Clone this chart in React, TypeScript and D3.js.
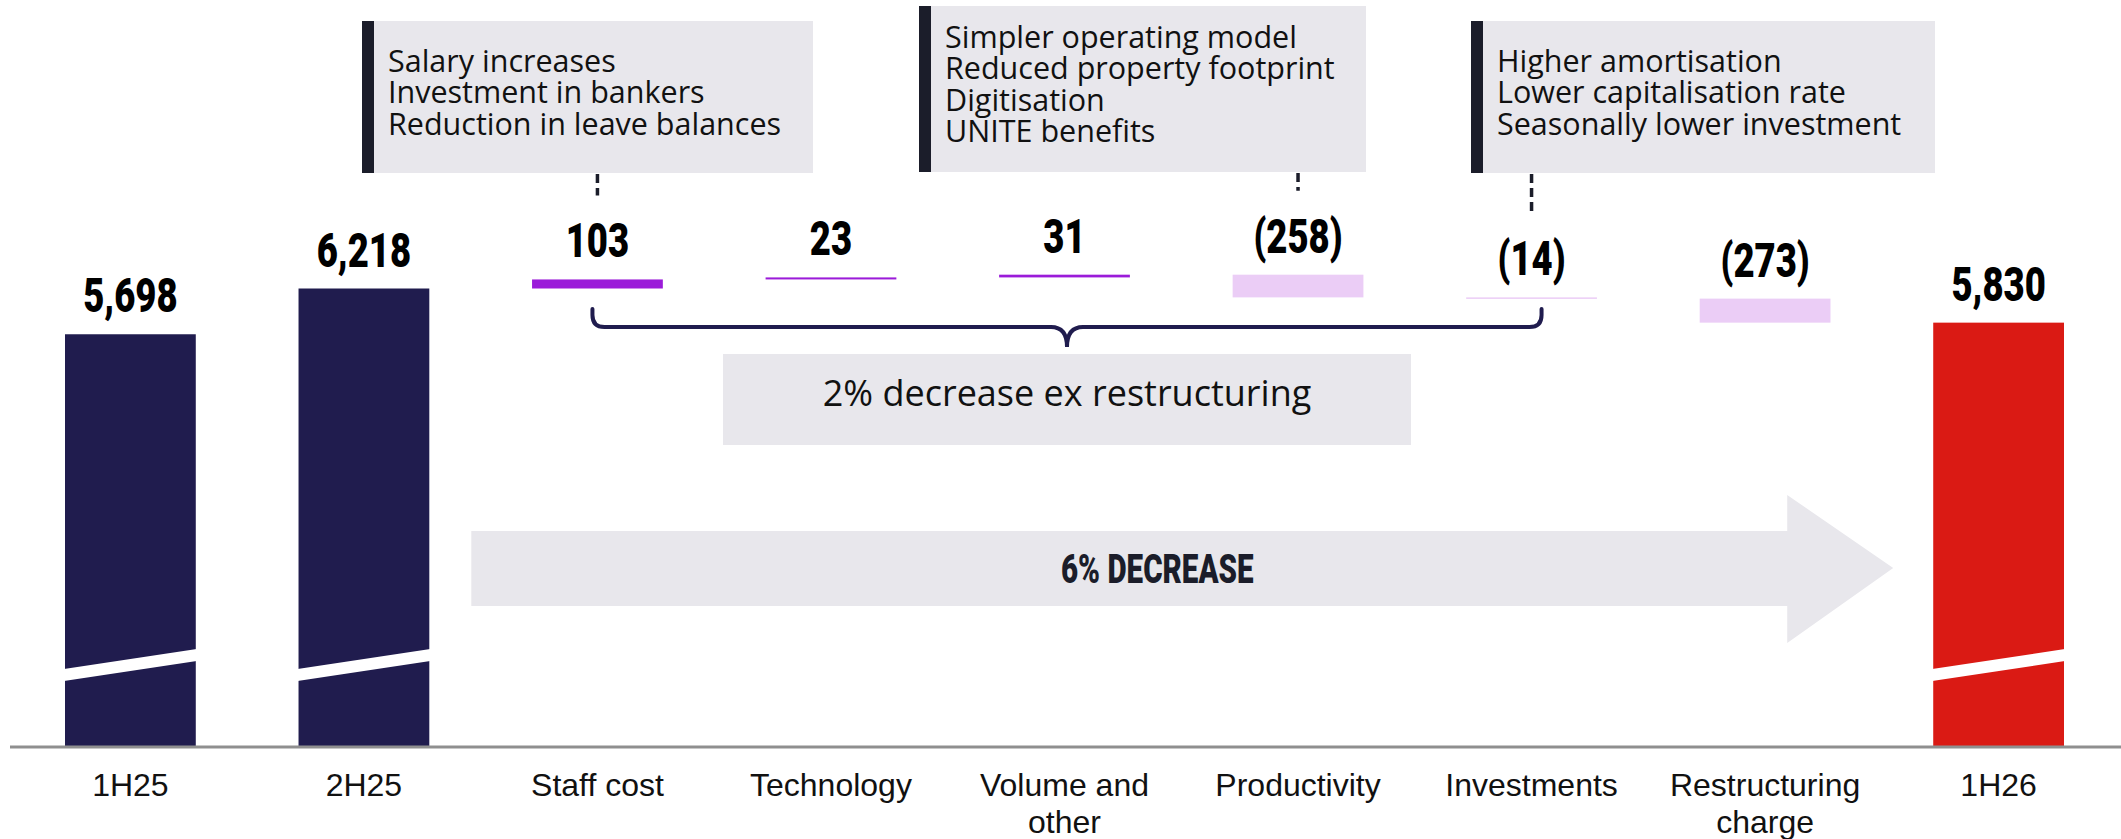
import * as d3 from 'd3'
import { useEffect, useRef } from 'react'

// ---- data ----
const categories = ['1H25', '2H25', 'Staff cost', 'Technology', 'Volume and other', 'Productivity', 'Investments', 'Restructuring charge', '1H26']
const categoryLines = [['1H25'], ['2H25'], ['Staff cost'], ['Technology'], ['Volume and', 'other'], ['Productivity'], ['Investments'], ['Restructuring', 'charge'], ['1H26']]
const openingValues = [5698, 6218] // 1H25, 2H25
const closingValue = 5830 // 1H26
const movements = [103, 23, 31, -258, -14, -273]

const staffNotes = ['Salary increases', 'Investment in bankers', 'Reduction in leave balances']
const productivityNotes = ['Simpler operating model', 'Reduced property footprint', 'Digitisation', 'UNITE benefits']
const investmentNotes = ['Higher amortisation', 'Lower capitalisation rate', 'Seasonally lower investment']
const exRestructuringText = '2% decrease ex restructuring'
const totalChangeText = '6% DECREASE'

// ---- layout ----
const W = 2121
const H = 839
const baseY = 747
const navy = '#201c4e'
const red = '#da1a14'
const upColor = '#9b1bd9'
const downColor = '#ebcdf6'
const boxGray = '#e8e7ec'
const ink = '#1b1d2a'

const noteBoxes = [
	{ notes: staffNotes, target: 'Staff cost', x0: 362, x1: 813, y0: 21, y1: 173 },
	{ notes: productivityNotes, target: 'Productivity', x0: 919, x1: 1366, y0: 6, y1: 172 },
	{ notes: investmentNotes, target: 'Investments', x0: 1471, x1: 1935, y0: 21, y1: 173 },
]

export default function App() {
	const svgRef = useRef<SVGSVGElement>(null)

	useEffect(() => {
		const svg = d3.select(svgRef.current)
		svg.selectAll('*').remove()

		const x = d3.scaleBand().domain(categories).range([65, 2064]).paddingInner(0.44).paddingOuter(0)
		const bw = x.bandwidth()
		const cx = (c: string) => (x(c) as number) + bw / 2
		const y = d3.scaleLinear().domain([1008, 6218]).range([baseY, 288.5])

		// build waterfall rows
		type Row = { cat: string; from: number; to: number; kind: string; label: string }
		const rows: Row[] = []
		rows.push({ cat: categories[0], from: 1008, to: openingValues[0], kind: 'total', label: d3.format(',')(openingValues[0]) })
		rows.push({ cat: categories[1], from: 1008, to: openingValues[1], kind: 'total', label: d3.format(',')(openingValues[1]) })
		let run = openingValues[1]
		movements.forEach((m, i) => {
			rows.push({ cat: categories[i + 2], from: run, to: run + m, kind: m >= 0 ? 'up' : 'down', label: m >= 0 ? String(m) : `(${-m})` })
			run += m
		})
		rows.push({ cat: categories[8], from: 1008, to: closingValue, kind: 'end', label: d3.format(',')(closingValue) })

		const fillFor = (k: string) => (k === 'total' ? navy : k === 'end' ? red : k === 'up' ? upColor : downColor)

		// big arrow
		const aL = (x('2H25') as number) + bw + 42
		const aR = (x('1H26') as number) - 40
		const headX = aR - 106
		svg
			.append('path')
			.attr('d', `M${aL},531 H${headX} V495 L${aR},568 L${headX},643 V606 H${aL} Z`)
			.attr('fill', boxGray)
		svg
			.append('g')
			.attr('transform', `translate(${aL + 686},583) scale(0.74,1)`)
			.append('text')
			.attr('text-anchor', 'middle')
			.attr('font-family', 'Roboto, sans-serif')
			.attr('font-weight', 900)
			.attr('font-size', 40)
			.attr('fill', ink)
			.text(totalChangeText)

		// bars
		rows.forEach((r) => {
			const top = y(Math.max(r.from, r.to))
			const bottom = y(Math.min(r.from, r.to))
			svg
				.append('rect')
				.attr('x', x(r.cat) as number)
				.attr('y', top)
				.attr('width', bw)
				.attr('height', Math.max(1.5, bottom - top))
				.attr('fill', fillFor(r.kind))

			// broken axis slash on totals
			if (r.kind === 'total' || r.kind === 'end') {
				const x0 = (x(r.cat) as number) - 1
				const x1 = x0 + bw + 2
				const yc = baseY - 82
				svg
					.append('path')
					.attr('d', `M${x0},${yc + 4} L${x1},${yc - 16} L${x1},${yc - 4} L${x0},${yc + 16} Z`)
					.attr('fill', '#fff')
			}

			svg
				.append('g')
				.attr('transform', `translate(${cx(r.cat)},${top - 22}) scale(0.76,1)`)
				.append('text')
				.attr('text-anchor', 'middle')
				.attr('font-family', 'Roboto, sans-serif')
				.attr('font-weight', 900)
				.attr('font-size', 48)
				.attr('fill', '#000')
				.text(r.label)
		})

		// axis line
		svg.append('line').attr('x1', 10).attr('x2', W).attr('y1', baseY).attr('y2', baseY).attr('stroke', '#8f8f8f').attr('stroke-width', 3)

		// category labels
		categories.forEach((c, i) => {
			const t = svg
				.append('text')
				.attr('x', cx(c))
				.attr('y', 796)
				.attr('text-anchor', 'middle')
				.attr('font-family', '"Liberation Sans", Arial, sans-serif')
				.attr('font-size', 32)
				.attr('fill', '#111')
			categoryLines[i].forEach((line, j) => {
				t.append('tspan').attr('x', cx(c)).attr('dy', j === 0 ? 0 : 37).text(line)
			})
		})

		// note boxes with connectors
		noteBoxes.forEach((b) => {
			svg.append('rect').attr('x', b.x0).attr('y', b.y0).attr('width', b.x1 - b.x0).attr('height', b.y1 - b.y0).attr('fill', boxGray)
			svg.append('rect').attr('x', b.x0).attr('y', b.y0).attr('width', 12).attr('height', b.y1 - b.y0).attr('fill', ink)
			const lh = 31.5
			const mid = (b.y0 + b.y1) / 2
			const first = mid - ((b.notes.length - 1) * lh) / 2 + 11 - 5
			const t = svg
				.append('text')
				.attr('x', b.x0 + 26)
				.attr('y', first)
				.attr('font-family', '"Open Sans", sans-serif')
				.attr('font-size', 30.5)
				.attr('fill', '#111')
			b.notes.forEach((n, j) => {
				t.append('tspan').attr('x', b.x0 + 26).attr('dy', j === 0 ? 0 : lh).text(n)
			})
			const r = rows.find((d) => d.cat === b.target) as Row
			const barTop = y(Math.max(r.from, r.to))
			svg
				.append('line')
				.attr('x1', cx(b.target))
				.attr('x2', cx(b.target))
				.attr('y1', b.y1 + 1)
				.attr('y2', barTop - 84)
				.attr('stroke', ink)
				.attr('stroke-width', 3.5)
				.attr('stroke-dasharray', '9 5')
		})

		// brace from staff cost to investments
		const L = cx('Staff cost') - 5
		const R = cx('Investments') + 10
		const M = (L + R) / 2
		const by = 327
		svg
			.append('path')
			.attr(
				'd',
				`M${L},309 V315 Q${L},${by} ${L + 12},${by} H${M - 16} Q${M},${by} ${M},${by + 20} Q${M},${by} ${M + 16},${by} H${R - 12} Q${R},${by} ${R},315 V309`
			)
			.attr('fill', 'none')
			.attr('stroke', navy)
			.attr('stroke-width', 4)
			.attr('stroke-linecap', 'round')

		svg.append('rect').attr('x', M - 344).attr('y', 354).attr('width', 688).attr('height', 91).attr('fill', boxGray)
		svg
			.append('text')
			.attr('x', M)
			.attr('y', 406)
			.attr('text-anchor', 'middle')
			.attr('font-family', '"Open Sans", sans-serif')
			.attr('font-size', 36)
			.attr('fill', '#111')
			.text(exRestructuringText)
	}, [])

	return (
		<div style={{ position: 'absolute', left: 0, top: 0 }}>
			<svg ref={svgRef} width={W} height={H} style={{ display: 'block', background: '#fff' }} />
		</div>
	)
}
